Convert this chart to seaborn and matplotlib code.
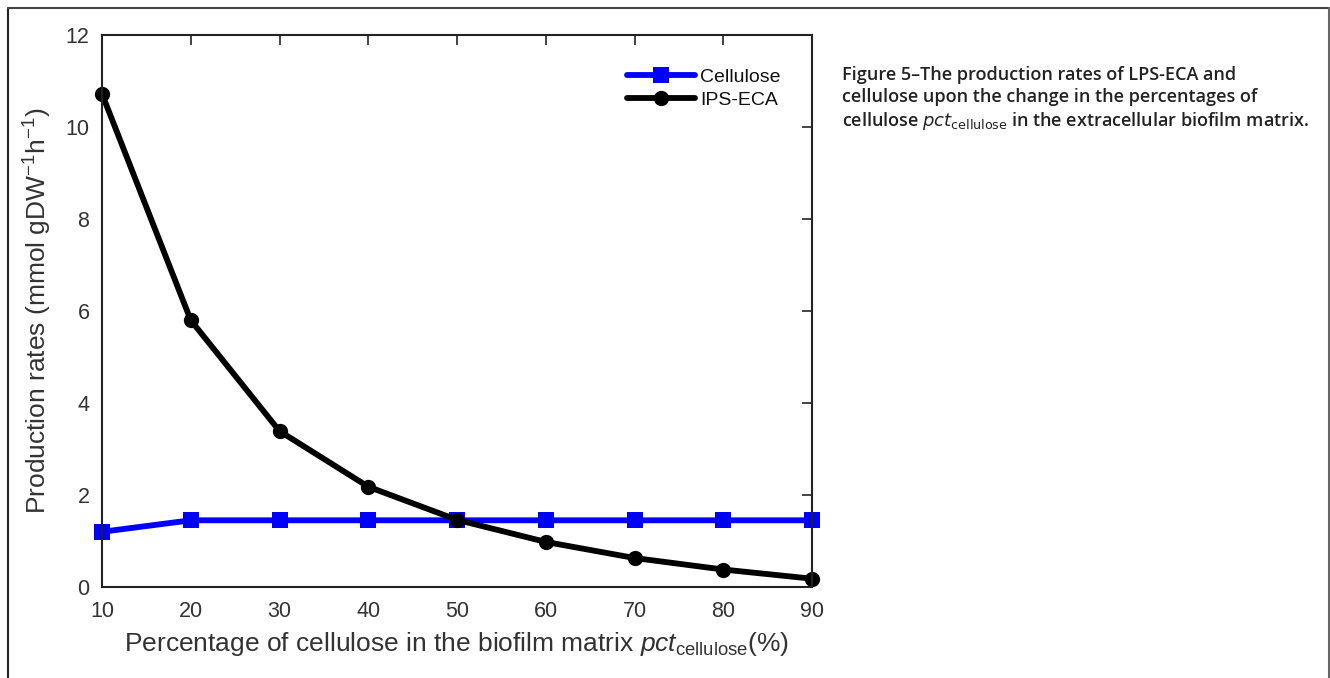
import matplotlib
matplotlib.use("Agg")
import matplotlib.pyplot as plt
from matplotlib.lines import Line2D
import seaborn as sns
import pandas as pd

pct = [10, 20, 30, 40, 50, 60, 70, 80, 90]
cellulose = [1.2, 1.45, 1.45, 1.45, 1.45, 1.45, 1.45, 1.45, 1.45]
ips_eca = [10.72, 5.8, 3.39, 2.18, 1.46, 0.98, 0.63, 0.38, 0.18]
series_names = ["Cellulose", "IPS-ECA"]
x_ticks = [10, 20, 30, 40, 50, 60, 70, 80, 90]
y_ticks = [0, 2, 4, 6, 8, 10, 12]

df = pd.DataFrame({
    "pct": pct * 2,
    "rate": cellulose + ips_eca,
    "series": [series_names[0]] * len(pct) + [series_names[1]] * len(pct),
})

sns.set_theme(style="white")
plt.rcParams["font.family"] = ["Liberation Sans", "DejaVu Sans"]
plt.rcParams["mathtext.fontset"] = "custom"
plt.rcParams["mathtext.rm"] = "Liberation Sans"
plt.rcParams["mathtext.it"] = "Liberation Sans:italic"

fig = plt.figure(figsize=(13.3, 6.78), dpi=100)
ax = fig.add_axes([102 / 1330, 1 - 587 / 678, (812 - 102) / 1330, (587 - 35) / 678])

sns.lineplot(data=df, x="pct", y="rate", hue="series", style="series",
             palette={"Cellulose": "#0000ff", "IPS-ECA": "#000000"},
             markers={"Cellulose": "s", "IPS-ECA": "o"}, dashes=False,
             linewidth=4.2, markersize=11, markeredgewidth=0, ax=ax, legend=True)
for ln in ax.get_lines():
    ln.set_clip_on(False)

ax.set_xlim(10, 90)
ax.set_ylim(0, 12)
ax.set_xticks(x_ticks)
ax.set_yticks(y_ticks)
ax.tick_params(direction="in", length=7, width=1.2, top=True, right=True,
               labelsize=15.5, labelcolor="#333333", pad=9, color="#222222")
ax.tick_params(axis="x", pad=10)
for s in ax.spines.values():
    s.set_visible(True)
    s.set_color("#222222")
    s.set_linewidth(1.5)

ax.set_xlabel(r"Percentage of cellulose in the biofilm matrix $\mathit{pct}_{\mathrm{cellulose}}$(%)",
              fontsize=19, color="#333333", labelpad=6)
ax.set_ylabel(r"Production rates (mmol gDW$^{\mathrm{-1}}$h$^{\mathrm{-1}}$)",
              fontsize=19, color="#333333", labelpad=8)

leg = ax.legend(loc="upper right", bbox_to_anchor=(0.975, 0.965), frameon=False,
                fontsize=14, handlelength=3.5, handletextpad=0.25,
                labelspacing=0.3, borderaxespad=0.3)
for t in leg.get_texts():
    t.set_color("#111111")

# Outer frame
fig.add_artist(Line2D([8 / 1330, 8 / 1330], [0, 1 - 8 / 678], transform=fig.transFigure,
                      color="#222222", lw=1.5))
fig.add_artist(Line2D([8 / 1330, 1329 / 1330], [1 - 8 / 678, 1 - 8 / 678],
                      transform=fig.transFigure, color="#444444", lw=1.5))
fig.add_artist(Line2D([1329 / 1330, 1329 / 1330], [0, 1 - 8 / 678], transform=fig.transFigure,
                      color="#666666", lw=1.5))

caption = ("Figure 5\u2013The production rates of LPS-ECA and\n"
           "cellulose upon the change in the percentages of\n"
           r"cellulose $\mathit{pct}_{\mathrm{cellulose}}$ in the extracellular biofilm matrix.")
fig.text(842 / 1330, 1 - 66 / 678, caption, ha="left", va="top", fontsize=13,
         fontweight="semibold", color="#222222", linespacing=1.27,
         family=["Open Sans", "DejaVu Sans"], math_fontfamily="dejavusans")

fig.savefig("out.png", dpi=100)
